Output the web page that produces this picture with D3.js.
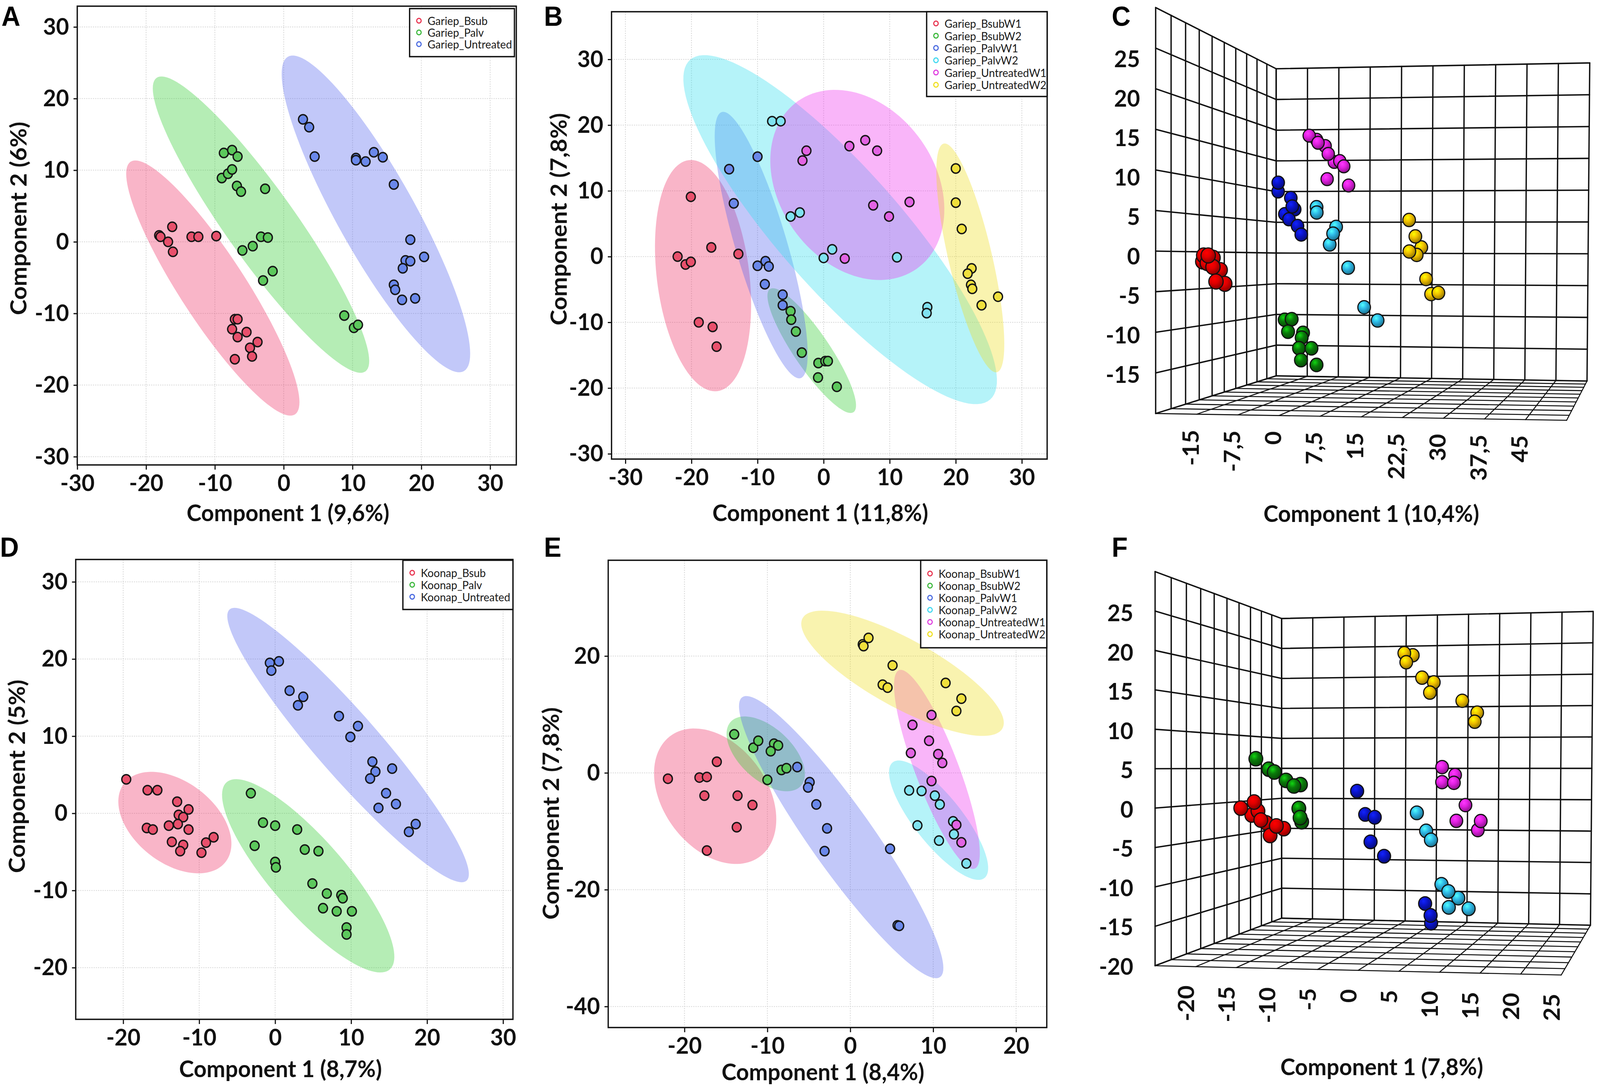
<!DOCTYPE html>
<html lang="en">
<head>
<meta charset="UTF-8">
<title>PCA score plots</title>
<script src="https://d3js.org/d3.v7.min.js"></script>
<style>
  html, body { margin: 0; padding: 0; overflow: hidden; background: #fff; }
  svg { display: block; width: 100vw; height: 100vh; font-family: Lato, "Open Sans", sans-serif; }
  .tick text, .lab3d { font-size: 60px; font-weight: 700; fill: #111; }
  .axis-title { font-size: 60px; font-weight: 700; fill: #111; text-anchor: middle; }
  .letter { font-family: "Liberation Sans", Arial, sans-serif; font-size: 70px; font-weight: 700; fill: #000; }
  .legend text { font-size: 29px; fill: #1a1a1a; dominant-baseline: central; }
  .grid line { stroke: #d6d6d6; stroke-width: 2; stroke-dasharray: 3 3; }
</style>
</head>
<body>
<script>
const width = 4289, height = 2795;

// colours shared by all panels (group order: red, green, blue, cyan, magenta, yellow)
const pointColors   = ["#e8506c", "#5cc85c", "#6a88ea", "#7fe2f0", "#e263e2", "#f0e03c"];
const ellipseColors = ["#ee3366", "#33cc33", "#5566ee", "#33ddee", "#ee33ee", "#eedd22"];
const legendColors  = ["#e8334f", "#3cb83c", "#4a6ae0", "#40d8f0", "#e040e0", "#f0e020"];
const sphereColors  = ["#e00000", "#0a7a0a", "#0a14c8", "#2eb8e6", "#e020e0", "#f0c000"];

// ---------- A : Gariep, treatments
const aNames = ["Gariep_Bsub", "Gariep_Palv", "Gariep_Untreated"];
const aBsub = [[-18.1,0.9],[-17.9,0.7],[-16.8,0],[-16.2,2.1],[-16.1,-1.4],[-13.4,0.7],[-12.4,0.7],[-9.8,0.8],
  [-7.1,-10.8],[-6.7,-10.8],[-7.5,-12.2],[-6.7,-13.3],[-5.4,-12.6],[-4.9,-14.8],[-4.6,-16.0],[-3.8,-14.0],[-7.1,-16.4]];
const aPalv = [[-8.7,12.4],[-7.5,12.8],[-6.7,11.9],[-9.0,8.9],[-8.1,9.5],[-7.5,10.1],[-6.8,7.8],[-6.2,7.0],[-2.7,7.4],
  [-3.3,0.7],[-2.3,0.6],[-6.0,-1.2],[-4.5,-0.6],[-1.6,-4.1],[-3.0,-5.4],[8.8,-10.3],[10.2,-12.0],[10.8,-11.6]];
const aUntreated = [[2.8,17.1],[3.7,16.0],[4.5,11.9],[10.5,11.7],[10.5,11.4],[11.9,11.2],[13.1,12.5],[14.4,11.8],[16.0,8.0],
  [18.4,0.3],[20.4,-2.1],[17.7,-2.6],[18.4,-2.7],[17.3,-3.7],[16.0,-6.0],[16.2,-6.7],[17.2,-8.1],[19.1,-7.9]];
// ellipse: centre x, centre y, semi-major, semi-minor, angle (deg)
const aEllipses = [[-10.3,-6.45,21.3,4.7,-55.8],[-3.3,2.4,25.5,5.0,-53.4],[13.4,3.9,25.4,5.6,-59.7]];

// ---------- B : Gariep, treatment x week
const bNames = ["Gariep_BsubW1","Gariep_BsubW2","Gariep_PalvW1","Gariep_PalvW2","Gariep_UntreatedW1","Gariep_UntreatedW2"];
const bBsubW1 = [[-20.1,9.1],[-22.1,0],[-20.9,-1.2],[-20.1,-0.8],[-17.0,1.4],[-12.9,0.4],[-18.9,-10.0],[-16.8,-10.7],[-16.2,-13.7]];
const bBsubW2 = [[-5.0,-8.3],[-4.9,-9.6],[-4.2,-11.4],[-3.3,-14.6],[-0.8,-16.2],[0.25,-15.9],[0.65,-15.9],[-0.85,-18.4],[2.0,-19.8]];
const bPalvW1 = [[-14.3,13.3],[-10.0,15.2],[-13.6,8.1],[-10.0,-1.4],[-8.8,-0.7],[-8.3,-1.5],[-8.9,-4.2],[-6.2,-5.8],[-6.2,-7.4]];
const bPalvW2 = [[-7.8,20.6],[-6.5,20.6],[-5.0,6.1],[-3.6,6.7],[0,-0.2],[1.3,1.1],[11.1,-0.1],[15.7,-7.7],[15.6,-8.6]];
const bUntreatedW1 = [[-3.2,14.6],[-2.6,16.1],[3.9,16.8],[6.3,17.7],[8.1,16.1],[7.5,7.8],[9.9,6.1],[13.0,8.3],[3.2,-0.3]];
const bUntreatedW2 = [[20.0,13.4],[20.0,8.2],[20.9,4.2],[22.4,-1.8],[21.8,-2.6],[22.3,-4.3],[22.5,-4.9],[23.9,-7.4],[26.4,-6.1]];
const bEllipses = [[-18.25,-2.9,17.7,7,-83],[-1.8,-14.3,11.3,2.7,-56],[-9.45,1.75,21.1,3.9,-73.6],
  [2.5,4.1,34.4,9.2,-48.7],[5.1,10.9,15.6,11.8,-55],[22.2,-0.2,17.85,3.3,-77]];

// ---------- D : Koonap, treatments
const dNames = ["Koonap_Bsub", "Koonap_Palv", "Koonap_Untreated"];
const dBsub = [[-19.6,4.4],[-16.8,3.0],[-15.5,3.0],[-12.9,1.5],[-12.7,-0.2],[-12.1,-0.5],[-11.4,0.5],[-16.9,-1.9],[-16.1,-2.1],
  [-14.0,-1.6],[-12.8,-1.4],[-11.4,-2.1],[-13.6,-3.7],[-12.1,-4.1],[-12.5,-4.9],[-9.7,-5.1],[-9.1,-3.8],[-8.1,-3.1]];
const dPalv = [[-3.2,2.6],[-1.6,-1.2],[0,-1.6],[2.9,-2.1],[-2.7,-4.2],[0,-6.3],[0.1,-7.0],[3.9,-4.7],[5.7,-4.9],
  [4.9,-9.1],[6.8,-10.4],[8.7,-10.6],[8.9,-11.0],[10.1,-12.7],[6.3,-12.3],[8.1,-12.7],[9.4,-14.8],[9.4,-15.7]];
const dUntreated = [[-0.7,19.5],[0.5,19.7],[-0.5,18.5],[1.9,15.9],[3.7,15.1],[3.0,14.0],[8.4,12.6],[10.9,11.3],[9.9,9.9],
  [12.8,6.7],[13.2,5.4],[12.5,4.5],[15.4,5.8],[14.6,2.6],[15.9,1.2],[13.6,0.7],[18.5,-1.4],[17.6,-2.4]];
const dEllipses = [[-13.2,-1.2,8.4,5.3,-36.7],[4.35,-8.1,16.2,4.8,-48.4],[9.6,8.85,23.5,4.1,-48.4]];

// ---------- E : Koonap, treatment x week
const eNames = ["Koonap_BsubW1","Koonap_BsubW2","Koonap_PalvW1","Koonap_PalvW2","Koonap_UntreatedW1","Koonap_UntreatedW2"];
const eBsubW1 = [[-22.0,-1.0],[-18.2,-0.8],[-17.3,-0.7],[-17.6,-3.9],[-13.6,-3.9],[-11.8,-5.5],[-13.7,-9.3],[-16.1,1.9],[-17.3,-13.3]];
const eBsubW2 = [[-14.0,6.6],[-11.7,4.3],[-11.1,5.5],[-9.2,5.0],[-8.7,4.7],[-9.6,3.7],[-8.3,0.5],[-7.7,0.8],[-10.0,-1.2]];
const ePalvW1 = [[-6.4,1.0],[-4.9,-1.6],[-5.1,-2.5],[-4.1,-5.4],[-2.8,-9.5],[-3.1,-13.4],[4.8,-13.0],[5.7,-26.1],[5.9,-26.2]];
const ePalvW2 = [[7.1,-3.0],[8.6,-3.1],[10.2,-3.9],[10.8,-5.4],[8.1,-9.0],[12.4,-8.3],[12.5,-10.5],[10.7,-11.6],[14.0,-15.5]];
const eUntreatedW1 = [[9.8,9.9],[7.5,8.2],[9.5,5.5],[7.3,3.4],[10.6,3.2],[11.1,1.7],[9.8,-1.4],[12.8,-8.9],[13.4,-11.9]];
const eUntreatedW2 = [[1.5,22.0],[2.2,23.1],[1.6,21.7],[5.1,18.4],[3.9,15.1],[4.5,14.6],[11.5,15.4],[13.4,12.7],[12.8,10.6]];
const eEllipses = [[-16.3,-4.0,12,6.7,-72],[-10.2,3.25,7.1,3.6,-60],[-1.1,-11.0,26.8,4.15,-64],
  [10.65,-8.1,11.4,3.2,-62.5],[10.45,0.6,17.6,2.7,-75.3],[6.3,17.05,15.4,5.2,-40.3]];

// ---------- C : Gariep 3D (component 1, component 2, component 3)
const cBsubW1 = [[-19.0,-0.5,18],[-17.9,-0.5,18.5],[-19.4,-1.3,17.5],[-18.3,-1.5,18],[-17.2,-2.0,18],[-16.0,-2.4,17.5],[-16.4,-3.9,18.5],[-14.9,-4.2,18],[-17.6,-0.8,17]];
const cBsubW2 = [[-11.5,-9.8,-5],[-10.0,-9.7,-5],[-10.6,-11.5,-4.5],[-7.7,-11.7,-5.5],[-8.4,-13.9,-5],[-5.7,-13.9,-5],[-7.8,-15.6,-4.5],[-4.6,-16.3,-5],[-8.0,-12.4,-5.5]];
const cPalvW1 = [[-15.3,10.5,-11.5],[-15.5,9.2,-12],[-12.5,8.2,-11.5],[-12.0,6.9,-11],[-14.0,5.8,-12],[-12.9,5.0,-11.5],[-11.0,4.0,-11.5],[-10.0,2.7,-11],[-11.8,6.5,-12]];
const cPalvW2 = [[-5.8,6.7,-8.5],[-5.6,5.9,-8],[-1.5,3.8,-8.5],[-2.0,2.8,-8],[-2.9,1.2,-8.5],[1.3,-2.2,-8],[4.7,-8.0,-8.5],[7.8,-9.9,-8]];
const cUntreatedW1 = [[-9.6,17.8,-15],[-8.1,17.2,-15.5],[-6.0,16.2,-15],[-5.3,15.0,-15],[-4.1,13.8,-15.5],[-2.7,13.9,-15],[-1.8,13.1,-15],[-5.7,11.2,-15.5],[-0.7,10.2,-15],[-7.6,16.7,-15]];
const cUntreatedW2 = [[14.5,4.8,-8.5],[16.0,2.4,-8],[17.2,0.8,-8.5],[14.7,0.2,-8],[16.2,-0.3,-8.5],[18.4,-3.8,-8],[19.4,-6.0,-8.5],[21.1,-5.8,-8]];
const cYTicks = [25, 20, 15, 10, 5, 0, -5, -10, -15];
const cXTicks = [-15, -7.5, 0, 7.5, 15, 22.5, 30, 37.5, 45];

// ---------- F : Koonap 3D
const fBsubW1 = [[-21.9,-0.7,4],[-19.9,0.2,4.5],[-19.5,-1.1,4],[-20.5,-1.7,3.5],[-19.1,-2.4,4],[-16.8,-3.2,4.5],[-15.9,-3.6,4],[-17.8,-4.6,4],[-18.5,-2.8,3.5]];
const fBsubW2 = [[-19.8,6.4,4],[-18.0,4.9,4],[-17.1,4.5,4.5],[-15.6,3.3,4],[-14.5,2.5,4],[-13.7,2.7,3.5],[-13.8,-0.7,4],[-13.5,-2.0,4.5],[-13.4,-2.6,4]];
const fPalvW1 = [[-8.2,1.6,-8],[-7.1,-1.9,-8.5],[-5.6,-2.3,-8],[-6.3,-6.0,-8.5],[-4.2,-8.1,-8],[1.8,-15.1,-8.5],[2.7,-16.8,-8],[2.7,-18.0,-8.5]];
const fPalvW2 = [[0.6,-1.6,-8],[1.9,-4.3,-8.5],[2.7,-5.6,-8],[4.2,-12.2,-8.5],[5.3,-13.2,-8],[6.7,-14.2,-8.5],[8.3,-15.7,-8],[5.3,-15.6,-8.5]];
const fUntreatedW1 = [[3.2,5.2,-15],[5.1,4.0,-15.5],[3.2,2.9,-15],[5.0,2.8,-15],[6.7,-0.6,-15.5],[5.4,-3.0,-15],[9.1,-3.0,-15],[8.6,-4.4,-15.5]];
const fUntreatedW2 = [[-2.6,22.7,-15],[-1.4,22.4,-15.5],[-2.3,21.3,-15],[0.1,18.9,-15],[1.8,18.2,-15.5],[1.3,16.6,-15],[6.2,15.3,-15],[8.4,13.5,-15.5],[8.1,12.1,-15]];
const fYTicks = [25, 20, 15, 10, 5, 0, -5, -10, -15, -20];
const fXTicks = [-20, -15, -10, -5, 0, 5, 10, 15, 20, 25];

// the figure is laid out on a 4289 x 2795 canvas and stretched to whatever the window is
const svg = d3.select("body").append("svg")
    .attr("viewBox", `0 0 ${width} ${height}`)
    .attr("preserveAspectRatio", "none");
svg.append("rect").attr("width", width).attr("height", height).attr("fill", "#fff");

const defs = svg.append("defs");
sphereColors.forEach((c, i) => {
    const g = defs.append("radialGradient").attr("id", "sph" + i)
        .attr("cx", "38%").attr("cy", "32%").attr("r", "68%");
    g.append("stop").attr("offset", "0%").attr("stop-color", d3.color(c).brighter(1.6));
    g.append("stop").attr("offset", "45%").attr("stop-color", c);
    g.append("stop").attr("offset", "100%").attr("stop-color", d3.color(c).darker(1.3));
});

const fmt = d => String(d).replace(".", ",");

function ellipsePath(e, x, y) {
    const [cx, cy, a, b, deg] = e, th = deg * Math.PI / 180;
    const pts = d3.range(120).map(i => {
        const t = i / 120 * 2 * Math.PI, dx = a * Math.cos(t), dy = b * Math.sin(t);
        return [cx + dx * Math.cos(th) - dy * Math.sin(th), cy + dx * Math.sin(th) + dy * Math.cos(th)];
    });
    return d3.line().x(p => x(p[0])).y(p => y(p[1])).curve(d3.curveLinearClosed)(pts);
}

function scatter(o) {
    const g = svg.append("g");
    const x = d3.scaleLinear().domain(o.xDomain).range([o.left, o.right]);
    const y = d3.scaleLinear().domain(o.yDomain).range([o.bottom, o.top]);

    const grid = g.append("g").attr("class", "grid");
    grid.selectAll(".gx").data(o.xTicks).join("line").attr("class", "gx")
        .attr("x1", x).attr("x2", x).attr("y1", o.top).attr("y2", o.bottom);
    grid.selectAll(".gy").data(o.yTicks).join("line").attr("class", "gy")
        .attr("y1", y).attr("y2", y).attr("x1", o.left).attr("x2", o.right);

    g.append("g").selectAll("path").data(o.ellipses).join("path")
        .attr("d", e => ellipsePath(e, x, y))
        .attr("fill", (e, i) => ellipseColors[i]).attr("fill-opacity", 0.36);

    o.series.forEach((s, i) => {
        g.append("g").selectAll("circle").data(s).join("circle")
            .attr("cx", d => x(d[0])).attr("cy", d => y(d[1])).attr("r", 12)
            .attr("fill", pointColors[i]).attr("stroke", "#151515").attr("stroke-width", 3.5);
    });

    g.append("rect").attr("x", o.left).attr("y", o.top)
        .attr("width", o.right - o.left).attr("height", o.bottom - o.top)
        .attr("fill", "none").attr("stroke", "#111").attr("stroke-width", 3.5);

    const gx = g.append("g").attr("transform", `translate(0,${o.bottom})`)
        .call(d3.axisBottom(x).tickValues(o.xTicks).tickSize(12).tickPadding(12).tickFormat(fmt));
    const gy = g.append("g").attr("transform", `translate(${o.left},0)`)
        .call(d3.axisLeft(y).tickValues(o.yTicks).tickSize(10).tickPadding(12).tickFormat(fmt));
    [gx, gy].forEach(a => {
        a.attr("font-size", null).attr("font-family", null);
        a.select(".domain").remove();
        a.selectAll(".tick line").attr("stroke", "#111").attr("stroke-width", 3);
    });

    g.append("text").attr("class", "axis-title").attr("x", o.xTitle[0]).attr("y", o.xTitle[1]).text(o.xLabel);
    g.append("text").attr("class", "axis-title")
        .attr("transform", `translate(${o.yTitle[0]},${o.yTitle[1]}) rotate(-90)`)
        .attr("dy", "0.35em").text(o.yLabel);

    const lg = g.append("g").attr("class", "legend");
    const L = o.legend;
    lg.append("rect").attr("x", L.x).attr("y", L.y).attr("width", L.w).attr("height", L.h)
        .attr("fill", "#fff").attr("stroke", "#111").attr("stroke-width", 3.5);
    const rows = lg.selectAll(".row").data(o.names).join("g").attr("class", "row")
        .attr("transform", (d, i) => `translate(0,${L.row0 + i * L.step})`);
    rows.append("circle").attr("cx", L.x + 25).attr("r", 6).attr("fill", "none")
        .attr("stroke", (d, i) => legendColors[i]).attr("stroke-width", 3);
    rows.append("text").attr("x", L.x + 48).text(d => d);

    svg.append("text").attr("class", "letter").attr("x", o.letter[0]).attr("y", o.letter[1]).text(o.letter[2]);
}

function scatter3d(o) {
    const g = svg.append("g");
    const u = d3.scaleLinear().domain(o.c1).range([0, 1]);
    const v = d3.scaleLinear().domain(o.c2).range([0, 1]);
    const w = d3.scaleLinear().domain(o.c3).range([0, 1]);
    const [TL, TR, BL, BR] = o.back, V = o.vp, k = o.k;
    // back-wall position by bilinear interpolation, then pulled towards the viewer from the vanishing point
    function proj(a, b, c) {
        const uu = u(a), vv = v(b), tt = w(c);
        const top = [TL[0] + (TR[0] - TL[0]) * uu, TL[1] + (TR[1] - TL[1]) * uu];
        const bot = [BL[0] + (BR[0] - BL[0]) * uu, BL[1] + (BR[1] - BL[1]) * uu];
        const P = [bot[0] + (top[0] - bot[0]) * vv, bot[1] + (top[1] - bot[1]) * vv];
        const s = 1 / (1 - (1 - 1 / k) * tt);
        return [V[0] + s * (P[0] - V[0]), V[1] + s * (P[1] - V[1]), s];
    }
    const t1 = d3.range(o.c1[0], o.c1[1] + 1e-6, o.step[0]);
    const t2 = d3.range(o.c2[0], o.c2[1] + 1e-6, o.step[1]);
    const t3 = d3.range(o.c3[0], o.c3[1] + 1e-6, o.step[2]);
    const [x0, x1] = o.c1, [y0, y1] = o.c2, [z0, z1] = o.c3;
    const walls = [], floor = [];
    t1.forEach(a => walls.push([proj(a, y0, z0), proj(a, y1, z0)]));
    t2.forEach(b => walls.push([proj(x0, b, z0), proj(x1, b, z0)]));
    t3.forEach(c => walls.push([proj(x0, y0, c), proj(x0, y1, c)]));
    t2.forEach(b => walls.push([proj(x0, b, z0), proj(x0, b, z1)]));
    t1.forEach(a => floor.push([proj(a, y0, z0), proj(a, y0, z1)]));
    t3.forEach(c => floor.push([proj(x0, y0, c), proj(x1, y0, c)]));
    const seg = (sel, data, sw) => sel.selectAll("line").data(data).join("line")
        .attr("x1", d => d[0][0]).attr("y1", d => d[0][1]).attr("x2", d => d[1][0]).attr("y2", d => d[1][1])
        .attr("stroke", "#111").attr("stroke-width", sw).attr("stroke-linecap", "round");
    seg(g.append("g"), floor, 2.6);
    seg(g.append("g"), walls, 3.6);

    const pts = [];
    o.series.forEach((s, i) => s.forEach(d => { const p = proj(d[0], d[1], d[2]); pts.push({ p, i }); }));
    pts.sort((a, b) => a.p[2] - b.p[2]);
    g.append("g").selectAll("circle").data(pts).join("circle")
        .attr("cx", d => d.p[0]).attr("cy", d => d.p[1]).attr("r", d => o.r * d.p[2])
        .attr("fill", d => `url(#sph${d.i})`).attr("stroke", "#111").attr("stroke-width", 3);

    const ly = d3.scaleLinear().domain(o.yLab.domain).range(o.yLab.range);
    g.append("g").selectAll("text").data(o.yTicks).join("text").attr("class", "lab3d")
        .attr("x", o.yLab.x).attr("y", d => ly(d)).attr("dy", "0.35em").attr("text-anchor", "end").text(fmt);
    g.append("g").selectAll("text").data(o.xTicks).join("text").attr("class", "lab3d")
        .attr("transform", d => { const p = proj(d, y0, z1); return `translate(${p[0] + o.xOff[0]},${p[1] + o.xOff[1]}) rotate(-90)`; })
        .attr("dy", "0.35em").attr("text-anchor", "end").text(fmt);
    g.append("text").attr("class", "axis-title").attr("x", o.xTitle[0]).attr("y", o.xTitle[1]).text(o.xLabel);
    svg.append("text").attr("class", "letter").attr("x", o.letter[0]).attr("y", o.letter[1]).text(o.letter[2]);
}

scatter({
    left: 207.1, right: 1384, top: 15.8, bottom: 1190,
    xDomain: [-30, 33.8], yDomain: [-31.15, 32.9],
    xTicks: [-30, -20, -10, 0, 10, 20, 30], yTicks: [-30, -20, -10, 0, 10, 20, 30],
    series: [aBsub, aPalv, aUntreated], ellipses: aEllipses, names: aNames,
    xLabel: "Component 1 (9,6%)", xTitle: [772, 1334],
    yLabel: "Component 2 (6%)", yTitle: [50, 559],
    legend: { x: 1098, y: 22, w: 281, h: 123, row0: 53, step: 30 },
    letter: [4, 66, "A"]
});

scatter({
    left: 1639.3, right: 2807, top: 30, bottom: 1175,
    xDomain: [-32.1, 33.83], yDomain: [-30.8, 37.25],
    xTicks: [-30, -20, -10, 0, 10, 20, 30], yTicks: [-30, -20, -10, 0, 10, 20, 30],
    series: [bBsubW1, bBsubW2, bPalvW1, bPalvW2, bUntreatedW1, bUntreatedW2], ellipses: bEllipses, names: bNames,
    xLabel: "Component 1 (11,8%)", xTitle: [2199, 1334],
    yLabel: "Component 2 (7,8%)", yTitle: [1498, 561],
    legend: { x: 2484, y: 30, w: 323, h: 217, row0: 60, step: 31.4 },
    letter: [1458, 66, "B"]
});

scatter({
    left: 203, right: 1375, top: 1432, bottom: 2609,
    xDomain: [-26.25, 31.3], yDomain: [-26.7, 32.9],
    xTicks: [-20, -10, 0, 10, 20, 30], yTicks: [-20, -10, 0, 10, 20, 30],
    series: [dBsub, dPalv, dUntreated], ellipses: dEllipses, names: dNames,
    xLabel: "Component 1 (8,7%)", xTitle: [752, 2757],
    yLabel: "Component 2 (5%)", yTitle: [46, 1987],
    legend: { x: 1080, y: 1434, w: 295, h: 126, row0: 1466, step: 30.7 },
    letter: [0, 1425, "D"]
});

scatter({
    left: 1630.4, right: 2806, top: 1434, bottom: 2630,
    xDomain: [-29.2, 23.7], yDomain: [-43.6, 36.4],
    xTicks: [-20, -10, 0, 10, 20], yTicks: [-40, -20, 0, 20],
    series: [eBsubW1, eBsubW2, ePalvW1, ePalvW2, eUntreatedW1, eUntreatedW2], ellipses: eEllipses, names: eNames,
    xLabel: "Component 1 (8,4%)", xTitle: [2206, 2765],
    yLabel: "Component 2 (7,8%)", yTitle: [1477, 2082],
    legend: { x: 2468, y: 1434, w: 338, h: 224, row0: 1468, step: 31 },
    letter: [1458, 1425, "E"]
});

scatter3d({
    back: [[3420.9, 176.0], [4261.5, 161.1], [3420.9, 962.0], [4254.2, 975.2]],
    vp: [4424, 662.7], k: 1.322, r: 15.5,
    c1: [-22.5, 52.5], c2: [-20, 30], c3: [-30, 30], step: [7.5, 5, 6],
    series: [cBsubW1, cBsubW2, cPalvW1, cPalvW2, cUntreatedW1, cUntreatedW2],
    yTicks: cYTicks, yLab: { domain: [-15, 25], range: [959.3, 151.4], x: 3056 },
    xTicks: cXTicks, xOff: [-15, 40],
    xLabel: "Component 1 (10,4%)", xTitle: [3676, 1336],
    letter: [2980, 66, "C"]
});

scatter3d({
    back: [[3435.5, 1583.1], [4270.7, 1565.0], [3435.5, 2350.1], [4263.4, 2368.2]],
    vp: [4512.1, 1963.9], k: 1.315, r: 16,
    c1: [-25, 25], c2: [-20, 30], c3: [-30, 30], step: [5, 5, 6],
    series: [fBsubW1, fBsubW2, fPalvW1, fPalvW2, fUntreatedW1, fUntreatedW2],
    yTicks: fYTicks, yLab: { domain: [-20, 25], range: [2473.8, 1569.5], x: 3038 },
    xTicks: fXTicks, xOff: [-25, 48],
    xLabel: "Component 1 (7,8%)", xTitle: [3704, 2752],
    letter: [2980, 1425, "F"]
});
</script>
</body>
</html>
